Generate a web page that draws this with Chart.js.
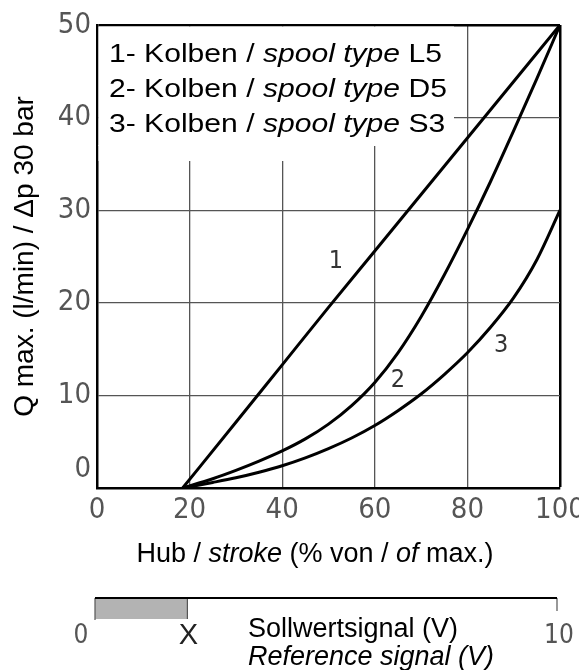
<!DOCTYPE html>
<html>
<head>
<meta charset="utf-8">
<script src="https://cdn.jsdelivr.net/npm/chart.js@4.4.1/dist/chart.umd.min.js"></script>
<style>
  html, body { margin: 0; padding: 0; background: #fff; }
  #wrap { width: 579px; height: 670px; position: relative; }
</style>
</head>
<body>
<div id="wrap"><canvas id="c" width="579" height="670"></canvas></div>
<script>
// ---- data ----
const strokeTicks = [0, 20, 40, 60, 80, 100];
const flowTicks = [0, 10, 20, 30, 40, 50];
const curveIds = ['1', '2', '3'];
const spoolTypes = ['L5', 'D5', 'S3'];

const strokeL5 = [18.5, 30, 40, 50, 60, 70, 80, 90, 100];
const flowL5   = [0, 7.1, 13.3, 19.5, 25.6, 31.7, 37.8, 43.9, 50];

const strokeD5 = [18.5, 25, 30, 35, 40, 45, 50, 55, 60, 65, 70, 75, 80, 85, 90, 95, 100];
const flowD5   = [0, 1.0, 1.9, 2.9, 4.0, 5.3, 6.9, 8.9, 11.4, 14.6, 18.5, 23.0, 27.9, 33.1, 38.6, 44.2, 50];

const strokeS3 = [18.5, 25, 30, 35, 40, 45, 50, 55, 60, 65, 70, 75, 80, 85, 90, 95, 100];
const flowS3   = [0, 0.6, 1.1, 1.7, 2.4, 3.25, 4.25, 5.4, 6.75, 8.35, 10.15, 12.25, 14.6, 17.35, 20.55, 24.65, 30];

const signalRange = [0, 10];     // Sollwertsignal (V)
const deadBand = [0, 2];         // grey band 0 .. X
const signalLabels = ['0', 'X', '10'];

const xTitleRuns = [['Hub / ', false], ['stroke', true], [' (% von / ', false], ['of', true], [' max.)', false]];
const yTitle = 'Q max. (l/min) / \u0394p 30 bar';
const signalTitle = ['Sollwertsignal (V)', 'Reference signal (V)'];

const toPts = (xs, ys) => xs.map((x, i) => ({ x, y: ys[i] }));

const SANS = '"Liberation Sans", Arial, sans-serif';
const NARROW = '"DejaVu Sans Condensed", "Liberation Sans Narrow", sans-serif';

function drawRuns(ctx, runs, x, y, size, align, sx) {
  sx = sx || 1;
  const fonts = runs.map(r => (r[1] ? 'italic ' : '') + size + 'px ' + SANS);
  const widths = runs.map((r, i) => { ctx.font = fonts[i]; return ctx.measureText(r[0]).width * sx; });
  const total = widths.reduce((a, b) => a + b, 0);
  let cx = align === 'center' ? x - total / 2 : x;
  runs.forEach((r, i) => {
    ctx.save();
    ctx.font = fonts[i];
    ctx.translate(cx, y);
    ctx.scale(sx, 1);
    ctx.fillText(r[0], 0, 0);
    ctx.restore();
    cx += widths[i];
  });
}

const decor = {
  id: 'decor',
  beforeDatasetsDraw(chart) {
    const { ctx, chartArea: a } = chart;
    ctx.save();
    // white panel behind the legend text (hides grid lines there)
    ctx.fillStyle = '#fff';
    ctx.fillRect(a.left + 1.5, a.top + 1.5, 454 - a.left - 1.5, 146 - a.top - 1.5);
    ctx.fillRect(a.left + 1.5, 145, 300 - a.left, 16);
    // legend text
    ctx.fillStyle = '#000';
    ctx.textBaseline = 'alphabetic';
    ctx.textAlign = 'left';
    curveIds.forEach((id, i) => {
      drawRuns(ctx, [[id + '- Kolben / ', false], ['spool type', true], [' ' + spoolTypes[i], false]],
        109, 62 + i * 35, 25.5, 'left', 1.18);
    });
    ctx.restore();
  },
  afterDatasetsDraw(chart) {
    const { ctx } = chart;
    const xs = chart.scales.x, ys = chart.scales.y;
    const pos = [[51.6, 24.5], [65.0, 11.6], [87.3, 15.4]];
    ctx.save();
    ctx.fillStyle = '#333';
    ctx.font = '25px ' + NARROW;
    ctx.textAlign = 'center';
    ctx.textBaseline = 'middle';
    curveIds.forEach((id, i) => {
      ctx.fillText(id, xs.getPixelForValue(pos[i][0]), ys.getPixelForValue(pos[i][1]));
    });
    ctx.restore();
  },
  afterDraw(chart) {
    const { ctx } = chart;
    ctx.save();
    // x axis title with italic parts
    ctx.fillStyle = '#000';
    ctx.textAlign = 'left';
    ctx.textBaseline = 'alphabetic';
    drawRuns(ctx, xTitleRuns, 315, 562, 27, 'center');

    // reference signal bar
    const L = 95, R = 557, top = 598;
    const sx = v => L + (v - signalRange[0]) / (signalRange[1] - signalRange[0]) * (R - L);
    ctx.fillStyle = '#b3b3b3';
    ctx.fillRect(sx(deadBand[0]), top, sx(deadBand[1]) - sx(deadBand[0]), 21);
    ctx.strokeStyle = '#555';
    ctx.lineWidth = 1.2;
    ctx.beginPath();
    ctx.moveTo(sx(deadBand[0]), top); ctx.lineTo(sx(deadBand[0]), top + 22);
    ctx.moveTo(sx(deadBand[1]), top); ctx.lineTo(sx(deadBand[1]), top + 21);
    ctx.moveTo(sx(signalRange[1]), top); ctx.lineTo(sx(signalRange[1]), top + 13);
    ctx.stroke();
    ctx.strokeStyle = '#000';
    ctx.lineWidth = 2;
    ctx.beginPath();
    ctx.moveTo(sx(signalRange[0]), top); ctx.lineTo(sx(signalRange[1]), top);
    ctx.stroke();

    ctx.textAlign = 'center';
    ctx.textBaseline = 'middle';
    ctx.fillStyle = '#555';
    ctx.font = '26px ' + NARROW;
    ctx.fillText(signalLabels[0], sx(signalRange[0]) - 14, 636);
    ctx.fillText(signalLabels[2], sx(signalRange[1]) + 2, 636);
    ctx.fillStyle = '#222';
    ctx.font = '29px ' + SANS;
    ctx.fillText(signalLabels[1], sx(deadBand[1]) + 1, 636);

    ctx.textAlign = 'left';
    ctx.textBaseline = 'alphabetic';
    ctx.fillStyle = '#000';
    ctx.font = '27px ' + SANS;
    ctx.fillText(signalTitle[0], 248, 637);
    ctx.font = 'italic 27px ' + SANS;
    ctx.fillText(signalTitle[1], 248, 665);
    ctx.restore();
  }
};

const lineDs = (data) => ({
  data, showLine: true, borderColor: '#000', borderWidth: 3,
  pointRadius: 0, cubicInterpolationMode: 'monotone', fill: false
});

new Chart(document.getElementById('c'), {
  type: 'scatter',
  data: {
    datasets: [
      Object.assign(lineDs(toPts(strokeL5, flowL5)), { label: curveIds[0] }),
      Object.assign(lineDs(toPts(strokeD5, flowD5)), { label: curveIds[1] }),
      Object.assign(lineDs(toPts(strokeS3, flowS3)), { label: curveIds[2] })
    ]
  },
  options: {
    responsive: false,
    animation: false,
    layout: { padding: { left: 0, top: 25, right: 19, bottom: 122 } },
    plugins: { legend: { display: false }, tooltip: { enabled: false } },
    scales: {
      x: {
        type: 'linear', min: strokeTicks[0], max: strokeTicks[strokeTicks.length - 1],
        afterBuildTicks: s => { s.ticks = strokeTicks.map(v => ({ value: v })); },
        afterFit: s => { s.height = 60; s.paddingLeft = 0; s.paddingRight = 0; },
        ticks: { padding: 5, color: '#555', maxRotation: 0, font: { family: NARROW, size: 29 } },
        grid: {
          drawTicks: false,
          color: c => (c.tick && c.tick.value === 100) ? '#000' : '#555',
          lineWidth: c => (c.tick && c.tick.value === 100) ? 2.5 : 1.3
        },
        border: { color: '#000', width: 2.5 }
      },
      y: {
        type: 'linear', min: flowTicks[0], max: flowTicks[flowTicks.length - 1],
        afterBuildTicks: s => { s.ticks = flowTicks.map(v => ({ value: v })); },
        afterFit: s => { s.width = 97; s.paddingTop = 0; s.paddingBottom = 0; },
        ticks: {
          padding: 6, color: '#555',
          callback: v => v === 0 ? ['0', ''] : String(v),
          font: c => ({ family: NARROW, size: 29, lineHeight: (c.tick && c.tick.value === 0) ? 1.28 : 1.2 })
        },
        grid: {
          drawTicks: false,
          color: c => (c.tick && c.tick.value === 50) ? '#000' : '#555',
          lineWidth: c => (c.tick && c.tick.value === 50) ? 2.5 : 1.3
        },
        border: { color: '#000', width: 2.5 },
        title: { display: true, text: yTitle, color: '#000', padding: { top: 8, bottom: 0 },
                 font: { family: SANS, size: 28 } }
      }
    }
  },
  plugins: [decor]
});
</script>
</body>
</html>
